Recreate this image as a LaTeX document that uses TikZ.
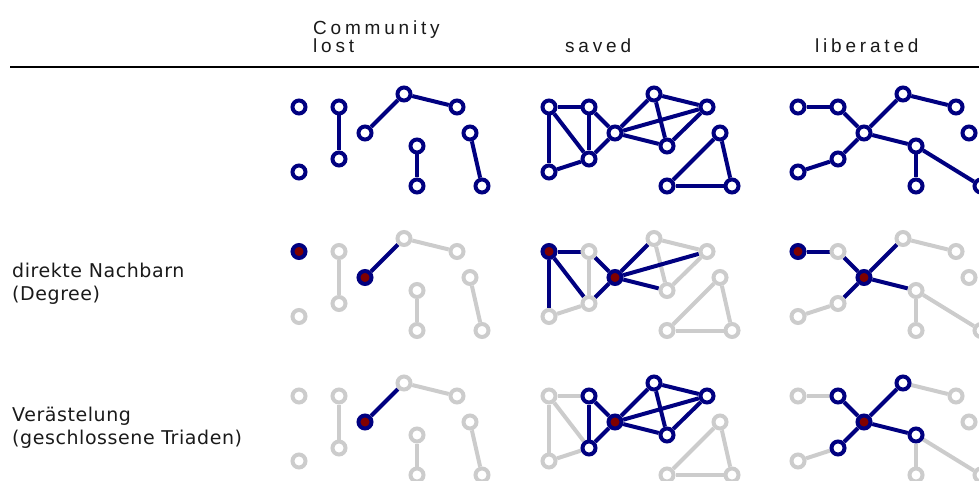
\documentclass[tikz,border=0pt]{standalone}
\usepackage{fontspec}
\setmainfont{DejaVu Sans}[LetterSpace=3]
\newfontfamily\headfont[LetterSpace=20]{Liberation Sans}
\usetikzlibrary{backgrounds}
\definecolor{netblue}{HTML}{000080}
\definecolor{netred}{HTML}{800000}
\definecolor{netgray}{HTML}{CCCCCC}
\definecolor{inktext}{HTML}{1A1A1A}

\tikzset{
  nd/.style={circle, inner sep=0pt, minimum size=13pt, line width=4pt, fill=white},
  on/.style={nd, draw=netblue},
  off/.style={nd, draw=netgray},
  ego/.style={nd, draw=netblue, fill=netred},
  eon/.style={draw=netblue, line width=4pt},
  eoff/.style={draw=netgray, line width=4pt},
  head/.style={font=\headfont\fontsize{19}{18}\selectfont, align=left,
    anchor=base west, inner sep=0pt, text=inktext},
  rowlab/.style={font=\fontsize{19}{23}\selectfont, align=left,
    anchor=base west, inner sep=0pt, text=inktext},
}

% place the eleven nodes of one network: #1 name prefix, #2 shift,
% #3 default node style, #4 per-node overrides (st a/.style=..., ...)
\newcommand\netnodes[4]{%
  \begin{scope}[shift={#2},
      st a/.style=#3, st b/.style=#3, st c/.style=#3, st d/.style=#3,
      st e/.style=#3, st f/.style=#3, st g/.style=#3, st h/.style=#3,
      st i/.style=#3, st j/.style=#3, st k/.style=#3, #4]
    \foreach \n/\px/\py in {a/299/107, b/299/172, c/339/107, d/339/159,
        e/365/133, f/404/94, g/457/107, h/417/146, i/417/186,
        j/470/133, k/482/186}
      \node[style/.expanded={st \n}] (#1\n) at (\px,\py) {};
  \end{scope}}

% connect pairs of nodes of one network: #1 prefix, #2 style, #3 pairs
\newcommand\links[3]{%
  \foreach \u/\v in {#3} \draw[#2] (#1\u) -- (#1\v);}

\begin{document}
\begin{tikzpicture}[x=1pt, y=-1pt]
  \useasboundingbox (0,0) rectangle (979,481);

  % column headings and rule (multi-line nodes sit on their last baseline)
  \node[head] (h-lost) at (313,53) {Community\\lost};
  \node[head] (h-saved) at (565,53) {saved};
  \node[head] (h-lib) at (815,53) {liberated};
  \coordinate (rule-l) at (10,67.5);
  \coordinate (rule-r) at (979,67.5);
  \draw[line width=2pt] (rule-l) -- (rule-r);

  % row headings
  \node[rowlab] (r-degree) at (12,300) {direkte Nachbarn\\(Degree)};
  \node[rowlab] (r-triad) at (12,444.5) {Verästelung\\(geschlossene Triaden)};

  % ---------- row 1: whole networks ----------
  \netnodes{lo1-}{(0,0)}{on}{}
  \netnodes{sa1-}{(250,0)}{on}{}
  \netnodes{li1-}{(499,0)}{on}{}

  % ---------- row 2: direct neighbours ----------
  \netnodes{lo2-}{(0,144.5)}{off}{st a/.style=ego, st e/.style=ego}
  \netnodes{sa2-}{(250,144.5)}{off}{st a/.style=ego, st e/.style=ego}
  \netnodes{li2-}{(499,144.5)}{off}{st a/.style=ego, st e/.style=ego}

  % ---------- row 3: closed triads ----------
  \netnodes{lo3-}{(0,289)}{off}{st e/.style=ego}
  \netnodes{sa3-}{(250,289)}{off}{st e/.style=ego, st c/.style=on,
    st d/.style=on, st f/.style=on, st g/.style=on, st h/.style=on}
  \netnodes{li3-}{(499,289)}{off}{st e/.style=ego, st c/.style=on,
    st d/.style=on, st f/.style=on, st h/.style=on}

  \begin{scope}[on background layer]
    % row 1
    \links{lo1-}{eon}{c/d, e/f, f/g, h/i, j/k}
    \links{sa1-}{eon}{a/c, a/b, a/d, c/d, b/d, c/e, d/e, e/f, e/g, e/h,
      f/g, f/h, g/h, i/j, j/k, i/k}
    \links{li1-}{eon}{a/c, c/e, d/e, b/d, e/f, f/g, e/h, h/i, h/k}
    % row 2
    \links{lo2-}{eoff}{c/d, f/g, h/i, j/k}
    \links{lo2-}{eon}{e/f}
    \links{sa2-}{eoff}{c/d, b/d, f/g, f/h, g/h, i/j, j/k, i/k}
    \links{sa2-}{eon}{a/c, a/b, a/d, c/e, d/e, e/f, e/g, e/h}
    \links{li2-}{eoff}{b/d, f/g, h/i, h/k}
    \links{li2-}{eon}{a/c, c/e, d/e, e/f, e/h}
    % row 3
    \links{lo3-}{eoff}{c/d, f/g, h/i, j/k}
    \links{lo3-}{eon}{e/f}
    \links{sa3-}{eoff}{a/c, a/b, a/d, b/d, i/j, j/k, i/k}
    \links{sa3-}{eon}{c/d, c/e, d/e, e/f, e/g, e/h, f/g, f/h, g/h}
    \links{li3-}{eoff}{a/c, b/d, f/g, h/i, h/k}
    \links{li3-}{eon}{c/e, d/e, e/f, e/h}
  \end{scope}
\end{tikzpicture}
\end{document}
